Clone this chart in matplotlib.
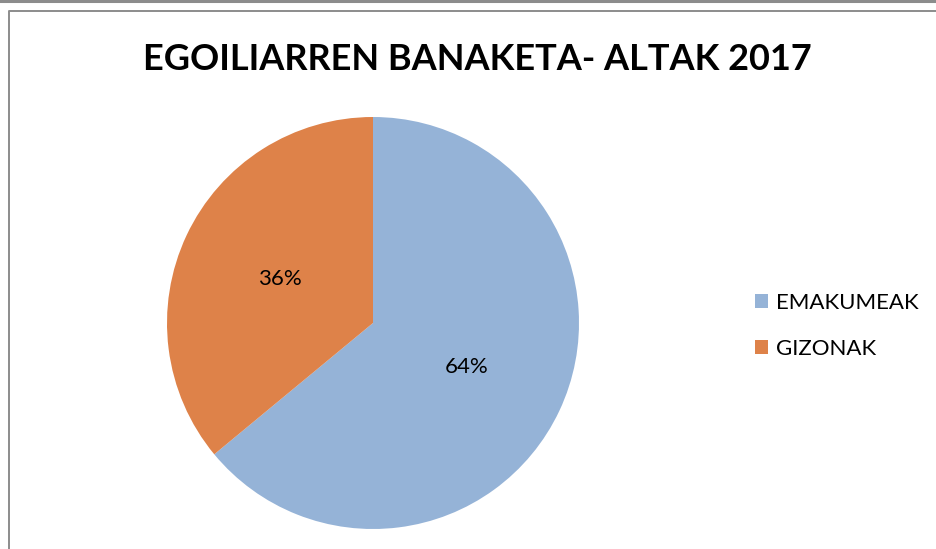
import matplotlib.pyplot as plt
from matplotlib.lines import Line2D

# Datuak
categories = ["EMAKUMEAK", "GIZONAK"]
values = [64, 36]
colors = ["#95B3D7", "#DE8249"]
title = "EGOILIARREN BANAKETA- ALTAK 2017"

W, H = 936, 549
fig = plt.figure(figsize=(W / 100, H / 100), dpi=100)

# Ertzak (goiko marra eta koadroa)
fig.add_artist(Line2D([0, 1], [1 - 1 / H, 1 - 1 / H], color="#8C8C8C", lw=2.2,
                      transform=fig.transFigure))
fig.add_artist(Line2D([8.5 / W, 8.5 / W, 1.01], [-0.01, 1 - 11 / H, 1 - 11 / H],
                      color="#8C8C8C", lw=1.4, transform=fig.transFigure))

# Tarta
cx, cy, r = 373, 323, 206
ax = fig.add_axes([(cx - r) / W, (H - cy - r) / H, 2 * r / W, 2 * r / H])
wedges, texts, autotexts = ax.pie(
    values, colors=colors, startangle=90, counterclock=False,
    autopct="%1.0f%%", pctdistance=0.5, radius=1,
    textprops={"fontsize": 16, "color": "black", "family": "Lato"},
)
ax.set_xlim(-1, 1)
ax.set_ylim(-1, 1)
ax.set_aspect("equal")
ax.axis("off")

fig.text(477 / W, 1 - 60 / H, title, ha="center", va="center",
         fontsize=26, fontweight="bold", family="Lato")

fig.legend(wedges, categories, loc="upper left",
           bbox_to_anchor=(735 / W, 1 - 273 / H), frameon=False,
           prop={"family": "Lato", "size": 16},
           handlelength=0.6, handleheight=0.6, handletextpad=0.35,
           labelspacing=1.15)

fig.savefig("out.png", dpi=100)
